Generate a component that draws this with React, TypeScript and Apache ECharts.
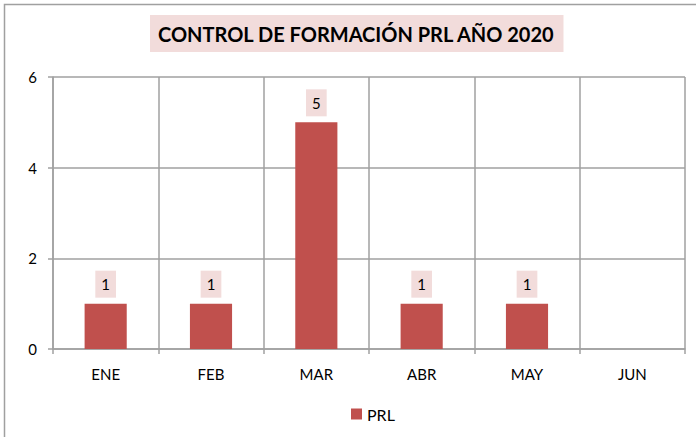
import React, { useEffect, useRef } from "react";
import * as echarts from "echarts";

const categories = ["ENE", "FEB", "MAR", "ABR", "MAY", "JUN"];
const prlValues: (number | null)[] = [1, 1, 5, 1, 1, null];
const yTicks = [0, 2, 4, 6];
const titleText = "CONTROL DE FORMACIÓN PRL AÑO 2020";
const seriesName = "PRL";

export default function App() {
  const ref = useRef<HTMLDivElement>(null);
  useEffect(() => {
    document.body.style.margin = "0";
    const chart = echarts.init(ref.current!, undefined, { renderer: "svg" });
    const font = "Lato, 'Open Sans', sans-serif";
    const gray = "#a0a0a0";
    chart.setOption({
      animation: false,
      textStyle: { fontFamily: font },
      graphic: [
        {
          type: "rect",
          shape: { x: 4.5, y: 4.5, width: 720, height: 460 },
          style: { fill: "none", stroke: gray, lineWidth: 1.5 },
          silent: true,
          z: -10,
        },
      ],
      title: {
        text: titleText,
        left: 150,
        top: 15,
        backgroundColor: "#f2dcdb",
        padding: [8, 8, 8, 8],
        textStyle: { fontFamily: font, fontWeight: "bold", fontSize: 20, color: "#000", lineHeight: 21 },
      },
      legend: {
        top: 401,
        left: 346,
        itemWidth: 11,
        itemHeight: 11,
        itemGap: 6,
        icon: "rect",
        textStyle: { fontFamily: font, fontSize: 16, color: "#000" },
        data: [seriesName],
      },
      grid: { left: 53, right: 11, top: 77, bottom: 88 },
      xAxis: {
        type: "category",
        data: categories,
        axisLine: { lineStyle: { color: gray, width: 1.5 } },
        axisTick: { show: true, length: 5, lineStyle: { color: gray, width: 1.5 } },
        axisLabel: { fontSize: 15, color: "#000", margin: 17, fontFamily: font },
        splitLine: { show: true, lineStyle: { color: gray, width: 1.5 } },
      },
      yAxis: {
        type: "value",
        min: yTicks[0],
        max: yTicks[yTicks.length - 1],
        interval: 2,
        axisLine: { show: true, lineStyle: { color: gray, width: 1.5 } },
        axisTick: { show: true, length: 5, lineStyle: { color: gray, width: 1.5 } },
        axisLabel: { fontSize: 15, color: "#000", margin: 16, fontFamily: font },
        splitLine: { show: true, lineStyle: { color: gray, width: 1.5 } },
      },
      series: [
        {
          name: seriesName,
          type: "bar",
          data: prlValues,
          barWidth: "40%",
          itemStyle: { color: "#c0504d" },
          label: {
            show: true,
            position: "top",
            distance: 6,
            fontSize: 15,
            lineHeight: 17,
            color: "#000",
            fontFamily: font,
            backgroundColor: "#f2dcdb",
            padding: [5, 6, 5, 6],
          },
        },
      ],
    });
    return () => chart.dispose();
  }, []);
  return <div ref={ref} style={{ width: 696, height: 437 }} />;
}
